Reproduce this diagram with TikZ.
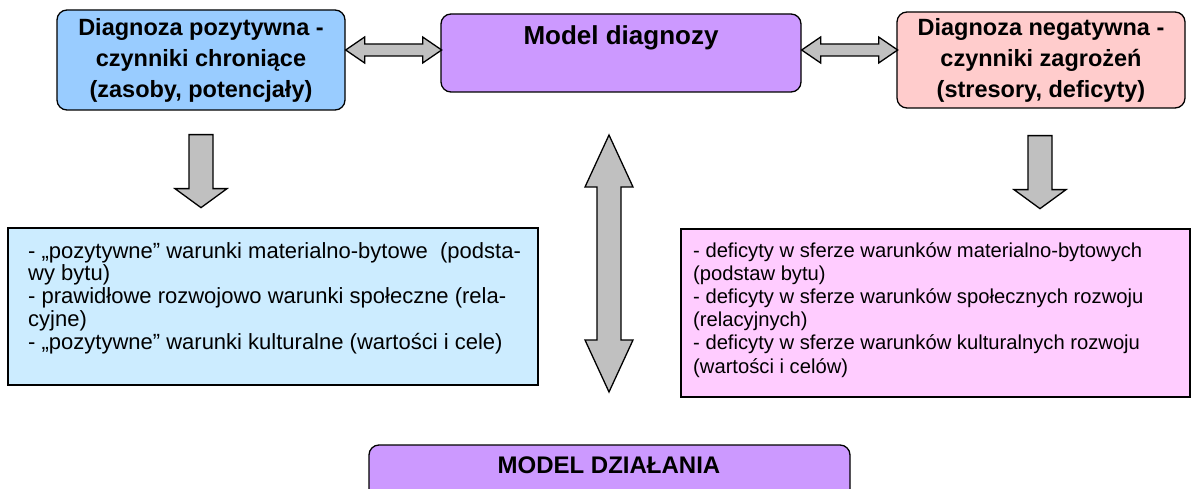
\documentclass[tikz,border=0pt]{standalone}
\usepackage{fontspec}
\setmainfont{Liberation Sans}
\definecolor{ltblue}{HTML}{99CCFF}
\definecolor{palblue}{HTML}{CCECFF}
\definecolor{lilac}{HTML}{CC99FF}
\definecolor{rosy}{HTML}{FFCCCC}
\definecolor{pinkish}{HTML}{FFCCFF}
\definecolor{arrowgray}{HTML}{C0C0C0}
\tikzset{
  titlebox/.style={draw=black, line width=1.3pt, rounded corners=10pt, inner sep=0pt,
    align=center, font=\bfseries\fontsize{23.5}{31}\selectfont},
  bodybox/.style={draw=black, line width=1.3pt, inner sep=0pt},
  bodytext/.style={anchor=north west, inner sep=0pt, align=left},
  blockarrow/.style={draw=black, line width=1.3pt, fill=arrowgray, line join=miter}
}
\begin{document}
\begin{tikzpicture}[x=1pt,y=-1pt]
\useasboundingbox (0,0) rectangle (1199,489);
% top boxes
\node[titlebox, fill=ltblue, minimum width=288, minimum height=100] (lt) at (201,60)
  {Diagnoza pozytywna -\\czynniki chroniące\\(zasoby, potencjały)};
\node[titlebox, fill=lilac, minimum width=360, minimum height=78] (mid) at (621,53) {};
\node[font=\bfseries\fontsize{26}{30}\selectfont, inner sep=0pt] (midtxt) at (621,38) {Model diagnozy};
\node[titlebox, fill=rosy, minimum width=288, minimum height=96] (rt) at (1041,60)
  {Diagnoza negatywna -\\czynniki zagrożeń\\(stresory, deficyty)};
% body boxes
\node[bodybox, fill=palblue, minimum width=530, minimum height=157] (lb) at (273,306.5) {};
\node[bodytext, font=\fontsize{22}{22.8}\selectfont] (lbt) at (28,242)
  {- „pozytywne” warunki materialno-bytowe\ \ (podsta-\\
   wy bytu)\\
   - prawidłowe rozwojowo warunki społeczne (rela-\\
   cyjne)\\
   - „pozytywne” warunki kulturalne (wartości i cele)};
\node[bodybox, fill=pinkish, minimum width=509, minimum height=168] (rb) at (935.5,313) {};
\node[bodytext, font=\fontsize{20.2}{23.2}\selectfont] (rbt) at (693,242)
  {- deficyty w sferze warunków materialno-bytowych\\
   (podstaw bytu)\\
   - deficyty w sferze warunków społecznych rozwoju\\
   (relacyjnych)\\
   - deficyty w sferze warunków kulturalnych rozwoju\\
   (wartości i celów)};
% bottom box
\node[titlebox, fill=lilac, minimum width=481, minimum height=70] (bot) at (609.5,480) {};
\node[font=\bfseries\fontsize{24}{28}\selectfont, inner sep=0pt] (bottxt) at (609,465) {MODEL DZIAŁANIA};
% horizontal double arrows
\draw[blockarrow] (lt.east |- 0,50) -- ++(19,-13) -- ++(0,7) -- ++(58,0) -- ++(0,-7)
  -- ++(19,13) -- ++(-19,13) -- ++(0,-7) -- ++(-58,0) -- ++(0,7) -- cycle;
\draw[blockarrow] (mid.east |- 0,50) -- ++(19,-13) -- ++(0,7) -- ++(58,0) -- ++(0,-7)
  -- ++(19,13) -- ++(-19,13) -- ++(0,-7) -- ++(-58,0) -- ++(0,7) -- cycle;
% down arrows
\draw[blockarrow] (lt.south -| 201,0) ++(0,24) ++(-12,0) -- ++(24,0) -- ++(0,54) -- ++(14,0)
  -- ++(-26,19) -- ++(-26,-19) -- ++(14,0) -- cycle;
\draw[blockarrow] (rt.south -| 1040,0) ++(0,27) ++(-12,0) -- ++(24,0) -- ++(0,54) -- ++(14,0)
  -- ++(-26,19) -- ++(-26,-19) -- ++(14,0) -- cycle;
% vertical double arrow
\draw[blockarrow] (609,135) -- ++(24,52) -- ++(-12,0) -- ++(0,153) -- ++(12,0)
  -- ++(-24,52) -- ++(-24,-52) -- ++(12,0) -- ++(0,-153) -- ++(-12,0) -- cycle;
\end{tikzpicture}
\end{document}
